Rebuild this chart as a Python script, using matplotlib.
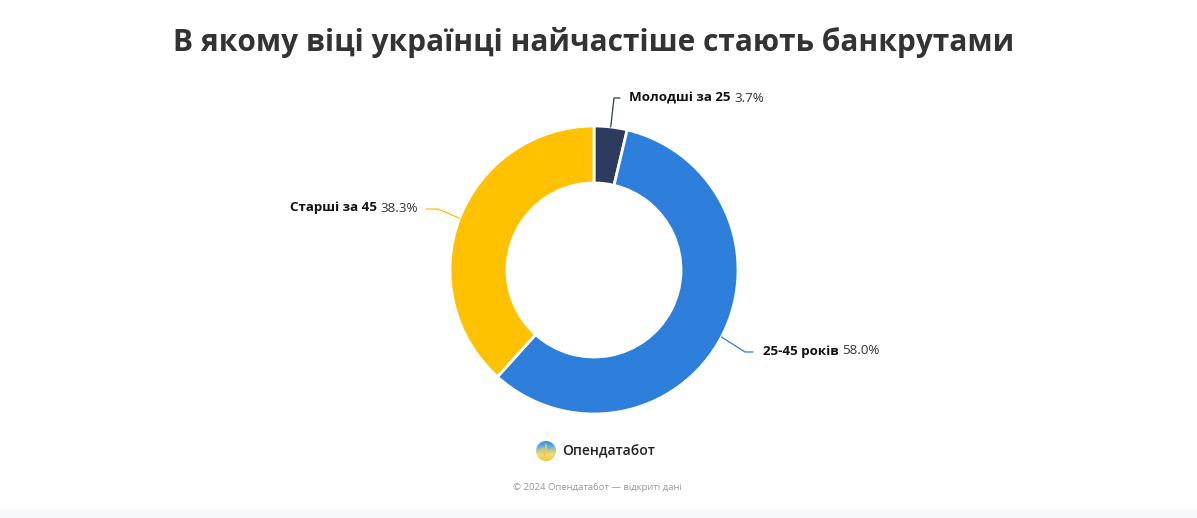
import numpy as np
import matplotlib
matplotlib.use('Agg')
import matplotlib.pyplot as plt
from matplotlib import font_manager as fm
from matplotlib.patches import Circle, Rectangle

plt.rcParams['font.family'] = ['Open Sans', 'DejaVu Sans']

# data
groups = ['Молодші за 25', '25-45 років', 'Старші за 45']
shares = [3.7, 58.0, 38.3]
colors = ['#2d3b5e', '#2e7fdb', '#ffc100']
title = 'В якому віці українці найчастіше стають банкрутами'
brand = 'Опендатабот'
footer = '© 2024 Опендатабот — відкриті дані'


def face(weight, size):
    # pick a plain-width Open Sans file so no condensed face sneaks in
    cands = [f for f in fm.fontManager.ttflist
             if f.name == 'Open Sans' and f.style == 'normal'
             and 'ondensed' not in f.fname and f.stretch in ('normal', 500)]
    if cands:
        best = min(cands, key=lambda f: abs(int(f.weight) - weight) if str(f.weight).isdigit() else 999)
        return fm.FontProperties(fname=best.fname, size=size)
    return fm.FontProperties(family=['Open Sans', 'DejaVu Sans'], weight=weight, size=size)


W, H = 1197, 518
fig = plt.figure(figsize=(W / 100, H / 100), dpi=100)
ax = fig.add_axes([0, 0, 1, 1])

def Y(y):
    # picture rows -> data y
    return H - y

cx, cy, R, ring = 594, Y(270), 144, 57
wedges, _ = ax.pie(shares, colors=colors, startangle=90, counterclock=False,
                   center=(cx, cy), radius=R,
                   wedgeprops=dict(width=ring, edgecolor='white', linewidth=2,
                                   joinstyle='round'))
ax.set_xlim(0, W)
ax.set_ylim(0, H)
ax.set_aspect('equal')
ax.axis('off')

# label layout: elbow point, end of line, text x, text y, side
layout = [
    ((614, 98), (620, 98), 629, 98, 'left'),
    ((745, 352), (753, 352), 763, 351, 'left'),
    ((438, 209), (426, 209), 418, 208, 'right'),
]

fig.canvas.draw()
rend = fig.canvas.get_renderer()
inv = ax.transData.inverted()

def text_width(t):
    bb = t.get_window_extent(renderer=rend).transformed(inv)
    return bb.width

fs = 9.6
f_bold = face(700, fs)
f_reg = face(400, fs)
for w, name, val, col, (elb, end, tx, ty, side) in zip(wedges, groups, shares, colors, layout):
    mid = np.deg2rad((w.theta1 + w.theta2) / 2)
    sx, sy = cx + R * np.cos(mid), cy + R * np.sin(mid)
    ax.plot([sx, elb[0], end[0]], [sy, Y(elb[1]), Y(end[1])], color=col, lw=0.9,
            solid_capstyle='round')
    pct = f'{val:.1f}%'
    if side == 'left':
        t1 = ax.text(tx, Y(ty), name, fontproperties=f_bold, color='#111',
                     ha='left', va='center')
        ax.text(tx + text_width(t1) + 3.5, Y(ty), pct, fontproperties=f_reg, color='#333',
                ha='left', va='center')
    else:
        t2 = ax.text(tx, Y(ty), pct, fontproperties=f_reg, color='#333', ha='right', va='center')
        ax.text(tx - text_width(t2) - 3.5, Y(ty), name, fontproperties=f_bold,
                color='#111', ha='right', va='center')

# title
ax.text(594, Y(42), title, fontproperties=face(700, 21.5), color='#333',
        ha='center', va='center')

# logo
lx, ly, lr = 546, Y(451), 10
grad = np.linspace(0, 1, 64).reshape(-1, 1)
cmap = matplotlib.colors.LinearSegmentedColormap.from_list(
    'logo', ['#2f8de4', '#6fb8ee', '#f5dc78', '#f4c63d'])
img = ax.imshow(grad, cmap=cmap, extent=(lx - lr, lx + lr, ly - lr, ly + lr),
                origin='upper', aspect='auto', zorder=3)
clip = Circle((lx, ly), lr, transform=ax.transData)
img.set_clip_path(clip)
pulse_x = lx + np.array([-10, -5, -3, -1.5, 0, 1.5, 3, 10])
pulse_y = ly + np.array([0, 0, 3, -5, 7, -3, 0, 0])
ax.plot(pulse_x, pulse_y, color='#f0c840', lw=0.9, zorder=4, clip_path=clip)
ax.text(562, Y(451), brand, fontproperties=face(600, 10), color='#222',
        ha='left', va='center')

ax.text(597, Y(487), footer, fontproperties=face(400, 6.8), color='#999',
        ha='center', va='center')

# bottom strip
ax.add_patch(Rectangle((0, 0), W, 9, color='#f7f8fa', lw=0, zorder=0))

fig.savefig('out.png', dpi=100)
